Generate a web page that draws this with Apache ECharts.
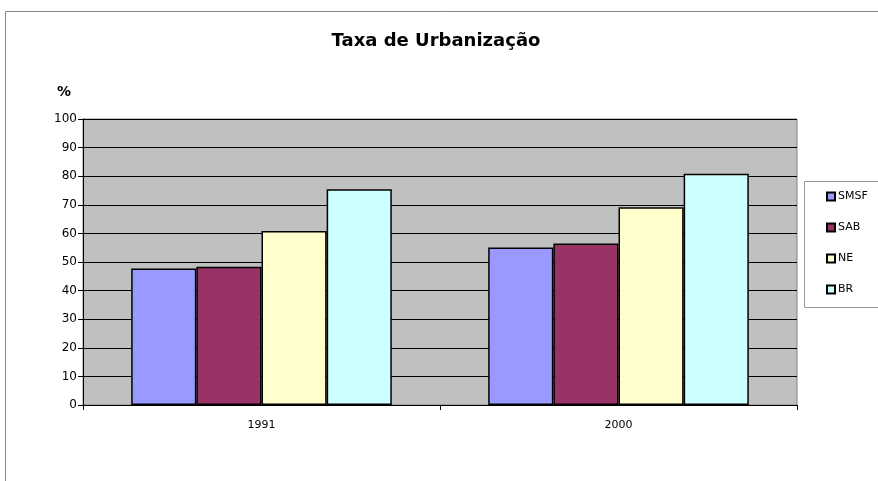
<!DOCTYPE html>
<html>
<head>
<meta charset="utf-8">
<script src="https://cdn.jsdelivr.net/npm/echarts@6/dist/echarts.min.js"></script>
<style>html,body{margin:0;padding:0;background:#fff;}#c{width:878px;height:481px;}</style>
</head>
<body>
<div id="c"></div>
<script>
var categories = ['1991', '2000'];
var seriesNames = ['SMSF', 'SAB', 'NE', 'BR'];
var smsf = [47.7, 55.1];
var sab = [48.3, 56.5];
var ne = [60.8, 69.1];
var br = [75.4, 80.9];
var colors = ['#9999FF', '#993366', '#FFFFCC', '#CCFFFF'];
var values = [smsf, sab, ne, br];

var chart = echarts.init(document.getElementById('c'));
var series = seriesNames.map(function (n, i) {
  return {
    name: n, type: 'bar', data: values[i],
    barGap: '0%', barCategoryGap: '27%',
    itemStyle: { color: colors[i], borderColor: '#000', borderWidth: 1.5 }
  };
});
chart.setOption({
  animation: false,
  title: {
    text: 'Taxa de Urbanização', left: 431, top: 27, textAlign: 'center',
    textStyle: { fontFamily: 'DejaVu Sans', fontWeight: 'bold', fontSize: 18, color: '#000' }
  },
  graphic: [
    { type: 'rect', shape: { x: 5.5, y: 11.5, width: 900, height: 500 }, style: { fill: null, stroke: '#888', lineWidth: 1 }, z: -10 },
    { type: 'rect', shape: { x: 804.5, y: 181.5, width: 80, height: 126 }, style: { fill: '#fff', stroke: '#999', lineWidth: 1 }, z: 0 },
    { type: 'text', left: 57, top: 85, style: { text: '%', font: 'bold 14px DejaVu Sans', fill: '#000' } }
  ],
  legend: {
    orient: 'vertical', left: 821, top: 186, itemWidth: 8, itemHeight: 8, itemGap: 20, icon: 'rect',
    textStyle: { fontFamily: 'DejaVu Sans', fontSize: 11, color: '#000', padding: [0, 0, 0, -2] },
    data: seriesNames, z: 5
  },
  grid: {
    left: 83, right: 81, top: 119, bottom: 76, show: true,
    backgroundColor: '#C0C0C0', borderColor: '#808080', borderWidth: 1
  },
  xAxis: {
    type: 'category', data: categories,
    axisLine: { lineStyle: { color: '#000', width: 1 } },
    axisTick: { show: true, length: 5, lineStyle: { color: '#000' } },
    axisLabel: { color: '#000', fontFamily: 'DejaVu Sans', fontSize: 11, margin: 15 }
  },
  yAxis: {
    type: 'value', min: 0, max: 100, interval: 10,
    axisLine: { show: true, lineStyle: { color: '#000', width: 1 } },
    axisTick: { show: true, length: 5, lineStyle: { color: '#000' } },
    splitLine: { lineStyle: { color: '#000', width: 1 } },
    axisLabel: { color: '#000', fontFamily: 'DejaVu Sans', fontSize: 12, margin: 6 }
  },
  series: series
});
</script>
</body>
</html>
